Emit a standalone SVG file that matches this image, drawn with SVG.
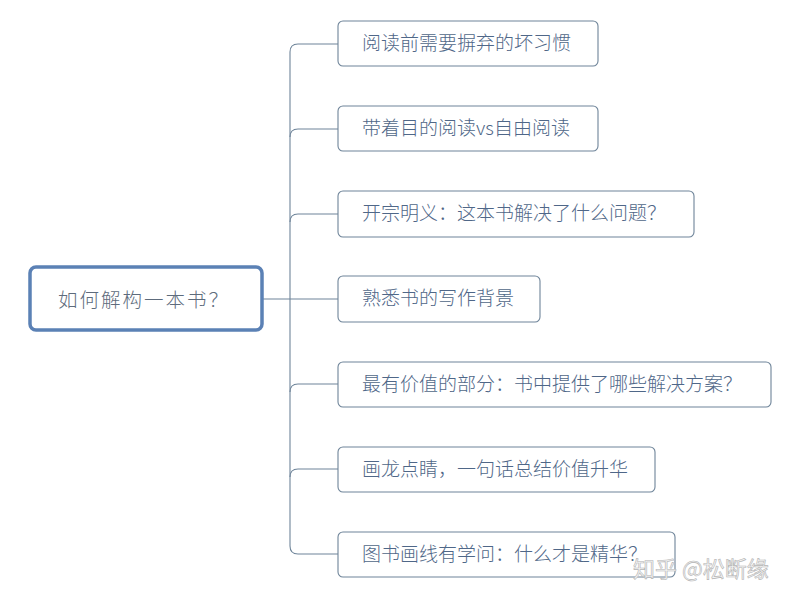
<svg xmlns="http://www.w3.org/2000/svg" width="800" height="599" viewBox="0 0 800 599">
<style>
.node rect{fill:#ffffff;stroke:#6e8499;stroke-width:1.1}
.node text{font-family:"Noto Sans CJK SC","Liberation Sans",sans-serif;font-size:19px;font-weight:300;fill:#4f6788}
.conn path{fill:none;stroke:#6e8499;stroke-width:1.1}
</style>
<rect width="800" height="599" fill="#ffffff"/>
<g class="conn">
<path d="M262 299 H338"/>
<path d="M290 52 Q290 44 298 44 H338"/>
<path d="M290 52 V546"/>
<path d="M290 546 Q290 554 298 554 H338"/>
<path d="M290 137 Q290 129 298 129 H338"/>
<path d="M290 222 Q290 214 298 214 H338"/>
<path d="M290 392 Q290 384 298 384 H338"/>
<path d="M290 477 Q290 469 298 469 H338"/>
</g>
<g id="root">
<rect x="30" y="267" width="232" height="63" rx="6" fill="#ffffff" stroke="#5b81b5" stroke-width="3.5"/>
<text x="58" y="307" font-family="Liberation Serif,'Noto Sans CJK SC',serif" font-size="19.5" letter-spacing="2" fill="#5d6b7c" font-weight="300">如何解构一本书？</text>
</g>
<g id="n1" class="node"><rect x="338" y="21" width="260" height="45" rx="5"/><text x="362" y="50">阅读前需要摒弃的坏习惯</text></g>
<g id="n2" class="node"><rect x="338" y="106" width="260" height="45" rx="5"/><text x="362" y="135">带着目的阅读vs自由阅读</text></g>
<g id="n3" class="node"><rect x="338" y="191" width="356" height="46" rx="5"/><text x="362" y="220">开宗明义：这本书解决了什么问题？</text></g>
<g id="n4" class="node"><rect x="338" y="276" width="202" height="46" rx="5"/><text x="362" y="305">熟悉书的写作背景</text></g>
<g id="n5" class="node"><rect x="338" y="362" width="433" height="45" rx="5"/><text x="362" y="391">最有价值的部分：书中提供了哪些解决方案？</text></g>
<g id="n6" class="node"><rect x="338" y="447" width="317" height="45" rx="5"/><text x="362" y="476">画龙点睛，一句话总结价值升华</text></g>
<g id="n7" class="node"><rect x="338" y="532" width="337" height="45" rx="5"/><text x="362" y="561">图书画线有学问：什么才是精华？</text></g>
<text x="633" y="577" font-family="'Noto Sans CJK SC',sans-serif" font-size="22" fill="#f4f4f4" stroke="#b4b4b4" stroke-width="0.6">知乎 @松断缘</text>
</svg>
